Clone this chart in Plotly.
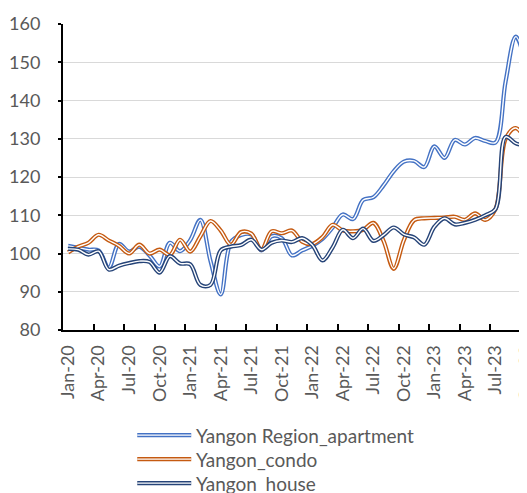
import plotly.graph_objects as go

months = ["Jan-20","Feb-20","Mar-20","Apr-20","May-20","Jun-20","Jul-20","Aug-20","Sep-20","Oct-20","Nov-20","Dec-20",
          "Jan-21","Feb-21","Mar-21","Apr-21","May-21","Jun-21","Jul-21","Aug-21","Sep-21","Oct-21","Nov-21","Dec-21",
          "Jan-22","Feb-22","Mar-22","Apr-22","May-22","Jun-22","Jul-22","Aug-22","Sep-22","Oct-22","Nov-22","Dec-22",
          "Jan-23","Feb-23","Mar-23","Apr-23","May-23","Jun-23","Jul-23","Aug-23","Sep-23","Oct-23"]

apartment = [102, 101.5, 101, 100.8, 96.3, 102.5, 100.5, 101.8, 99.5, 96.6, 102.8, 100.6,
             103.5, 108.8, 98, 89.3, 103, 104.8, 105, 100.8, 104.5, 104, 99.5, 100.8,
             102, 103.8, 106.8, 110.2, 109, 114, 114.7, 117.8, 121.5, 124, 124.2, 122.6,
             128, 125, 129.7, 128.5, 130.2, 129.4, 129, 145, 156.7, 149.3]

condo = [100.3, 101.8, 102.8, 104.9, 103.4, 102, 100, 102.3, 100, 101, 99.6, 103.6,
         100.5, 104.5, 108.5, 106, 102.3, 105.6, 105.2, 101, 105.8, 105.3, 106, 103.1,
         102.5, 104.3, 107.5, 106, 105.8, 106.2, 108, 103.3, 96, 103.5, 108.7, 109.2,
         109.3, 109.4, 109.6, 108.8, 110.5, 108.8, 111.6, 130, 132.8, 129.3]

house = [101.2, 101, 99.7, 100.6, 95.8, 96.8, 97.5, 98, 97.8, 95, 99.3, 97.4,
         97.2, 91.8, 91.8, 100.8, 101.8, 102.2, 103.6, 101, 102.8, 103.4, 103, 104,
         102.2, 98.2, 101.6, 106.2, 104, 106.5, 103.3, 104.8, 106.8, 105, 104.2, 102.3,
         107, 109.2, 107.6, 108, 108.8, 110, 111.6, 130.5, 128.8, 128.2]

series_names = ["Yangon Region_apartment", "Yangon_condo", "Yangon_house"]
series_values = [apartment, condo, house]
series_colors = ["#4472C4", "#C55A11", "#264478"]

FONT = "Lato"
W, H = 527, 493
ML, MR, MT, MB = 54.7, 8, 16.3, 171
PW, PH = W - ML - MR, H - MT - MB

def px_x(fx):  # figure px -> paper x
    return (fx - ML) / PW

def px_y(fy):  # figure px (from top) -> paper y
    return (H - MB - fy) / PH

fig = go.Figure()
for name, vals, color in zip(series_names, series_values, series_colors):
    fig.add_trace(go.Scatter(x=months, y=vals, name=name, mode="lines",
                             line=dict(color=color, width=4.2, shape="spline", smoothing=1.0),
                             showlegend=False))
    fig.add_trace(go.Scatter(x=months, y=vals, name=name, mode="lines",
                             line=dict(color="white", width=1.4, shape="spline", smoothing=1.0),
                             showlegend=False, hoverinfo="skip"))

# manual legend (double-line samples like the reference)
shapes, annotations = [], []
for k, (name, color) in enumerate(zip(series_names, series_colors)):
    fy = 427 + 24 * k
    for col, wd in ((color, 4.2), ("white", 1.4)):
        shapes.append(dict(type="line", xref="paper", yref="paper",
                           x0=px_x(129), x1=px_x(183), y0=px_y(fy), y1=px_y(fy),
                           line=dict(color=col, width=wd), layer="above"))
    annotations.append(dict(xref="paper", yref="paper", x=px_x(186), y=px_y(fy),
                            xanchor="left", yanchor="middle", showarrow=False,
                            text=name, font=dict(family=FONT, size=19, color="#595959")))

fig.update_layout(
    width=W, height=H,
    margin=dict(l=ML, r=MR, t=MT, b=MB, autoexpand=False),
    paper_bgcolor="white", plot_bgcolor="white",
    font=dict(family=FONT, size=18, color="#595959"),
    showlegend=False, shapes=shapes, annotations=annotations,
)
fig.update_xaxes(
    type="category", range=[-0.5, 45.1], dtick=3, tickson="boundaries",
    ticks="inside", ticklen=6, tickwidth=1.5, tickcolor="black",
    showline=True, linecolor="black", linewidth=2, automargin=False,
    showgrid=False, tickangle=-90, tickfont=dict(family=FONT, size=18, color="#595959"),
    ticklabelstandoff=6,
)
fig.update_yaxes(
    range=[80, 160], dtick=10, showgrid=True, gridcolor="#D9D9D9", gridwidth=1.3,
    ticks="outside", ticklen=3, tickwidth=1.5, tickcolor="black",
    showline=True, linecolor="black", linewidth=2, zeroline=False, automargin=False,
    tickfont=dict(family=FONT, size=18, color="#595959"), ticklabelstandoff=14,
)
fig.write_html("out.html")
